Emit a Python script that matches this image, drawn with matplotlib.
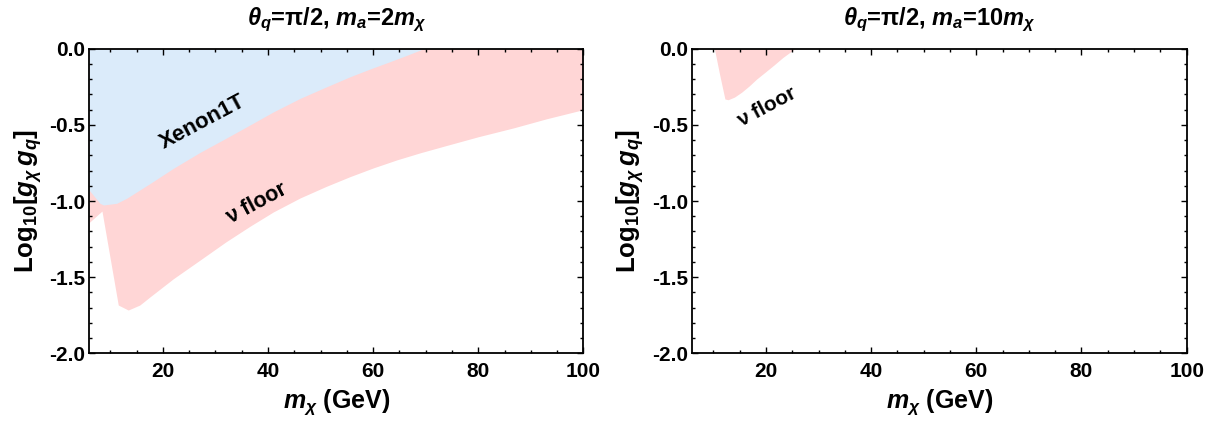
import numpy as np
import matplotlib
matplotlib.use("Agg")
import matplotlib.pyplot as plt
from matplotlib.ticker import MultipleLocator, FormatStrFormatter

plt.rcParams['font.family'] = ['Liberation Sans', 'DejaVu Sans']
plt.rcParams['font.weight'] = 'bold'
plt.rcParams['mathtext.fontset'] = 'custom'
plt.rcParams['mathtext.rm'] = 'Liberation Sans:bold'
plt.rcParams['mathtext.it'] = 'Liberation Sans:italic:bold'
plt.rcParams['mathtext.bf'] = 'Liberation Sans:bold'

# ---- data (left panel: m_a = 2 m_chi) ----
xenon_x = [6.0, 8.0, 8.7, 11.2, 13.1, 17.6, 22.0, 27.1, 32.0, 36.6, 41.0,
           46.1, 51.0, 55.6, 59.5, 63.2, 66.5, 69.6]
xenon_y = [-0.93, -1.015, -1.026, -1.015, -0.982, -0.884, -0.785, -0.68, -0.588, -0.50, -0.415,
           -0.326, -0.252, -0.184, -0.132, -0.085, -0.042, 0.0]

floor_x = [6.0, 8.4, 11.5, 13.4, 15.6, 17.6, 22.0, 27.1, 32.0, 36.6, 41.0, 46.1,
           51.0, 55.6, 60.0, 64.5, 69.0, 74.0, 80.0, 86.7, 93.0, 100.0]
floor_y = [-1.14, -1.066, -1.683, -1.716, -1.683, -1.628, -1.51, -1.387, -1.268, -1.165, -1.072, -0.98,
           -0.905, -0.84, -0.783, -0.73, -0.683, -0.635, -0.578, -0.52, -0.46, -0.40]

# ---- data (right panel: m_a = 10 m_chi) ----
floor2_x = [10.2, 11.2, 12.2, 12.8, 14.0, 15.4, 16.8, 18.2, 20.0, 21.6, 23.2, 25.5]
floor2_y = [0.0, -0.17, -0.33, -0.335, -0.318, -0.285, -0.245, -0.20, -0.15, -0.105, -0.058, 0.0]

titles = [r"$\theta_q$=π/2, $m_a$=2$m_\chi$", r"$\theta_q$=π/2, $m_a$=10$m_\chi$"]
xlim = (6, 100)
ylim = (-2.0, 0.0)

pink = '#FFD6D6'
blue = '#DBEBFA'

fig = plt.figure(figsize=(12.24, 4.23), dpi=100)
ax1 = fig.add_axes([0.0730, 0.1648, 0.4036, 0.7200])
ax2 = fig.add_axes([0.5656, 0.1648, 0.4039, 0.7200])

# left panel fills
ax1.fill_between(floor_x, floor_y, ylim[1], color=pink, lw=0)
ax1.fill_between(xenon_x, xenon_y, ylim[1], color=blue, lw=0)
ax1.text(27.6, -0.48, "Xenon1T", rotation=28, ha='center', va='center',
         fontsize=16, fontweight='bold')
ax1.text(37.9, -1.02, "ν floor", rotation=28, ha='center', va='center',
         fontsize=15.5, fontweight='bold')

# right panel fills
ax2.fill_between(floor2_x, floor2_y, ylim[1], color=pink, lw=0)
ax2.text(20.1, -0.38, "ν floor", rotation=28, ha='center', va='center',
         fontsize=15, fontweight='bold')

for ax, t in zip([ax1, ax2], titles):
    ax.set_xlim(*xlim)
    ax.set_ylim(*ylim)
    ax.xaxis.set_major_locator(MultipleLocator(20))
    ax.xaxis.set_minor_locator(MultipleLocator(5))
    ax.yaxis.set_major_locator(MultipleLocator(0.5))
    ax.yaxis.set_minor_locator(MultipleLocator(0.1))
    ax.yaxis.set_major_formatter(FormatStrFormatter('%.1f'))
    ax.tick_params(which='both', direction='in', top=True, right=True,
                   labelsize=15, width=1.0)
    ax.tick_params(axis='x', which='both', pad=6)
    ax.tick_params(axis='y', which='both', pad=3)
    ax.tick_params(which='major', length=4)
    ax.tick_params(which='minor', length=2)
    for s in ax.spines.values():
        s.set_linewidth(1.3)
    ax.set_title(t, fontsize=17, fontweight='bold', pad=17)
    ax.set_xlabel(r"$m_\chi$ (GeV)", fontsize=18, fontweight='bold', labelpad=5)
    ax.set_ylabel(r"Log$_{10}$[$g_\chi\,g_q$]", fontsize=18.5, fontweight='bold', labelpad=4)
    for lab in ax.get_xticklabels() + ax.get_yticklabels():
        lab.set_fontweight('bold')

fig.savefig("out.png", dpi=100)
